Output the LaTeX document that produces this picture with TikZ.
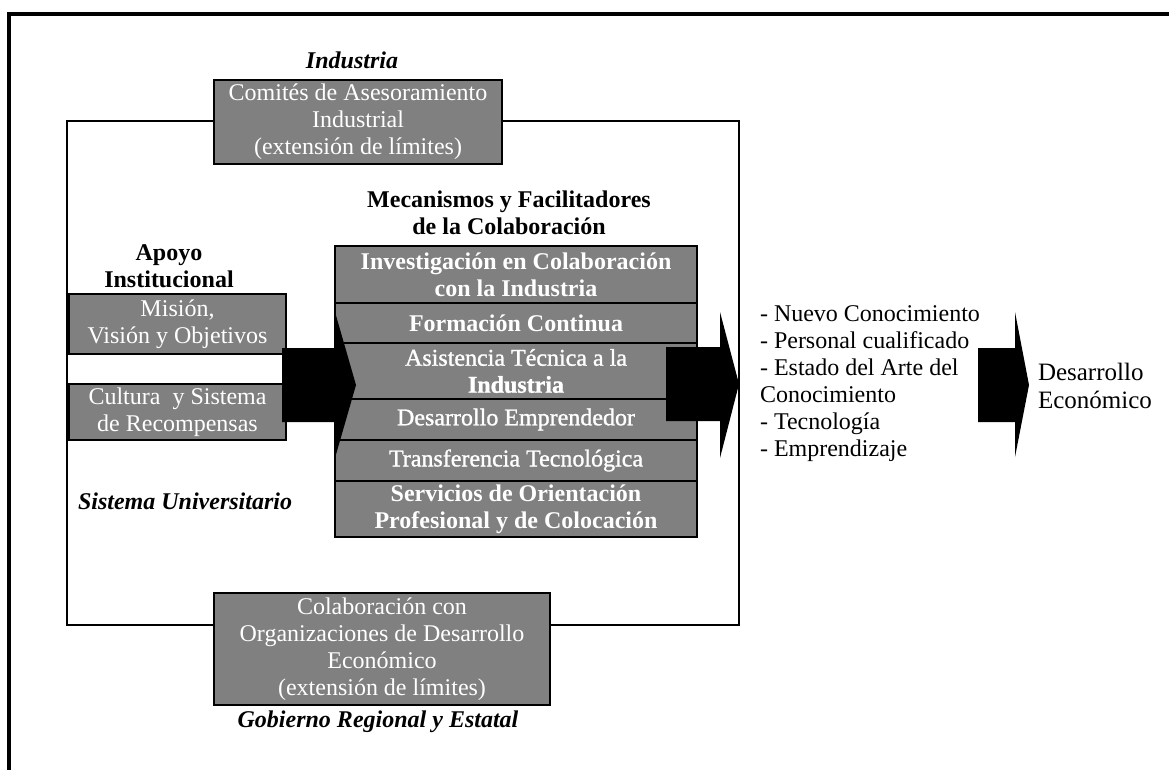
\documentclass[tikz,border=0pt]{standalone}
\usepackage{fontspec}
\setmainfont{Liberation Serif}
\newfontfamily\medserif[FakeBold=1.2]{Liberation Serif}
\begin{document}
\begin{tikzpicture}[x=1pt,y=-1pt,
  every node/.style={inner sep=0pt, outer sep=0pt, font=\fontsize{24}{27}\selectfont},
  graybox/.style={draw=black, line width=2.5pt, fill=boxgray, text=white, align=center},
  rowbox/.style={draw=black, line width=2pt, fill=boxgray, text=white, align=center,
    minimum width=362pt},
  heading/.style={align=center, font=\fontsize{24}{27}\selectfont\bfseries},
  iheading/.style={align=center, font=\fontsize{24}{27}\selectfont\bfseries\itshape},
  blockarrow/.style={fill=black, draw=none}
]
\definecolor{boxgray}{HTML}{808080}
\useasboundingbox (0,0) rectangle (1169,769);
\clip (0,0) rectangle (1169,769);

% outer frame (runs off the right and bottom edges)
\draw[line width=4pt] (9,800) -- (9,14) -- (1200,14);

% university system frame
\draw[line width=2.5pt] (67,121) rectangle (739,625);

% industry
\node[iheading] (ind) at (352,60) {Industria};
\node[graybox, minimum width=288pt, minimum height=84pt] (comites) at (358,122)
  {Comités de Asesoramiento\\Industrial\\(extensión de límites)};

% mechanisms heading
\node[heading] (mech) at (509,213) {Mecanismos y Facilitadores\\de la Colaboración};

% institutional support
\node[heading] (apoyo) at (169,266) {Apoyo\\Institucional};
\node[graybox, minimum width=217pt, minimum height=60pt] (mision) at (177.5,324)
  {Misión,\\ Visión y Objetivos};
\node[graybox, minimum width=217pt, minimum height=56pt] (cultura) at (177.5,412)
  {Cultura\ \ y Sistema\\de Recompensas};

% stack of collaboration mechanisms
\node[rowbox, minimum height=57pt, font=\fontsize{24}{27}\selectfont\bfseries] (r1) at (516,274.5)
  {Investigación en Colaboración\\con la Industria};
\node[rowbox, minimum height=40pt, font=\fontsize{24}{27}\selectfont\bfseries] (r2) at (516,323)
  {Formación Continua};
\node[rowbox, minimum height=56pt, font=\fontsize{24}{27}\selectfont\medserif] (r3) at (516,371)
  {Asistencia Técnica a la\\{\bfseries Industria}};
\node[rowbox, minimum height=41pt, font=\fontsize{24}{27}\selectfont\medserif] (r4) at (516,419.5)
  {Desarrollo Emprendedor};
\node[rowbox, minimum height=41pt, font=\fontsize{24}{27}\selectfont\medserif] (r5) at (516,460.5)
  {Transferencia Tecnológica};
\node[rowbox, minimum height=56pt, font=\fontsize{24}{27}\selectfont\bfseries] (r6) at (516,509)
  {Servicios de Orientación\\Profesional y de Colocación};

\node[iheading, anchor=west] (univ) at (78,501) {Sistema Universitario};

% government
\node[graybox, minimum width=336pt, minimum height=112pt] (colab) at (382,649)
  {Colaboración con\\Organizaciones de Desarrollo\\Económico\\(extensión de límites)};
\node[iheading] (gob) at (378,722) {Gobierno Regional y Estatal};

% outcomes
\node[anchor=west, align=left] (out) at (760,384)
  {- Nuevo Conocimiento\\- Personal cualificado\\- Estado del Arte del\\Conocimiento\\- Tecnología\\- Emprendizaje};
\node[anchor=west, align=left, font=\fontsize{25}{28}\selectfont] (econ) at (1038,386)
  {Desarrollo\\Económico};

% block arrows
\fill[blockarrow] (282,348) -- (335,348) -- (335,312) -- (356,385) -- (335,458)
  -- (335,422) -- (282,422) -- cycle;
\fill[blockarrow] (666,347) -- (720,347) -- (720,312) -- (739,384) -- (720,458)
  -- (720,421) -- (666,421) -- cycle;
\fill[blockarrow] (978,348) -- (1015,348) -- (1015,312) -- (1029,385) -- (1015,457)
  -- (1015,422) -- (978,422) -- cycle;
\end{tikzpicture}
\end{document}
